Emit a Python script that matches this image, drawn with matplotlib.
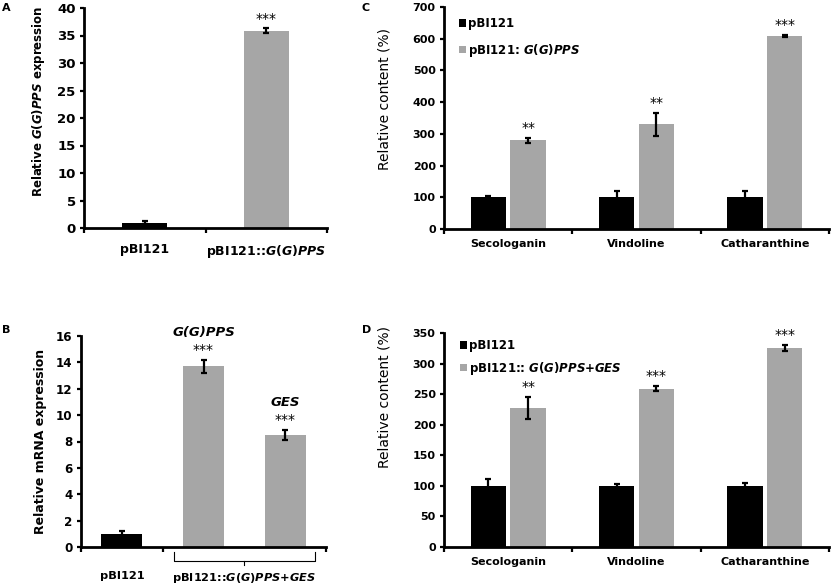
import numpy as np
import matplotlib
matplotlib.use("Agg")
import matplotlib.pyplot as plt
import matplotlib.transforms as mtransforms

plt.rcParams['font.family'] = 'DejaVu Sans'
plt.rcParams['mathtext.fontset'] = 'custom'
plt.rcParams['mathtext.it'] = 'DejaVu Sans:bold:italic'
plt.rcParams['mathtext.rm'] = 'DejaVu Sans:bold'
plt.rcParams['mathtext.bf'] = 'DejaVu Sans:bold'

# data
a_labels = ['pBI121', r'pBI121::$\mathit{G(G)PPS}$']
a_vals = [1.0, 35.9]
a_err = [0.2, 0.4]

b_labels = ['pBI121', r'pBI121::$\mathit{G(G)PPS}$+$\mathit{GES}$']
b_vals = [1.0, 13.7, 8.5]
b_err = [0.2, 0.5, 0.4]
b_genes = ['', 'G(G)PPS', 'GES']

compounds = ['Secologanin', 'Vindoline', 'Catharanthine']
c_ctrl = [100, 100, 100]
c_ctrl_err = [5, 20, 20]
c_ggpps = [280, 330, 608]
c_ggpps_err = [8, 36, 3]
c_stars = ['**', '**', '***']

d_ctrl = [100, 100, 100]
d_ctrl_err = [11, 3, 5]
d_ges = [228, 259, 326]
d_ges_err = [18, 4, 5]
d_stars = ['**', '***', '***']

W, H = 831, 586
BLACK = '#000000'
GRAY = '#a6a6a6'

fig = plt.figure(figsize=(W / 100, H / 100), dpi=100)


def box(l, t, r, b):
    return [l / W, 1 - b / H, (r - l) / W, (b - t) / H]


def fx(x):
    return x / W


def fy(y):
    return 1 - y / H


def style(ax, n, ymax, ystep, ysize):
    ax.set_xlim(-0.5, n - 0.5)
    ax.set_ylim(0, ymax)
    ax.set_yticks(np.arange(0, ymax + ystep / 2, ystep))
    for s in ['top', 'right']:
        ax.spines[s].set_visible(False)
    for s in ['left', 'bottom']:
        ax.spines[s].set_linewidth(2)
    ax.set_xticks(np.arange(-0.5, n, 1.0), minor=True)
    ax.tick_params(axis='x', which='minor', direction='out', length=3.5, width=1.6)
    ax.tick_params(axis='x', which='major', length=0)
    ax.tick_params(axis='y', direction='out', length=3, width=1.6, pad=3, labelsize=ysize)
    for lab in ax.get_yticklabels():
        lab.set_fontweight('bold')


ekw = dict(fmt='none', ecolor='black', elinewidth=1.6, capsize=2.4, capthick=1.6, zorder=3)

# A
axA = fig.add_axes(box(84, 8, 327, 228))
xa = np.arange(len(a_vals))
axA.bar(xa, a_vals, width=0.37, color=[BLACK, GRAY], zorder=2)
axA.errorbar(xa, a_vals, yerr=a_err, **ekw)
style(axA, 2, 40, 5, 9.5)
axA.set_xticks(xa)
axA.set_xticklabels(a_labels, fontweight='bold', fontsize=9)
axA.tick_params(axis='x', which='major', pad=11)
axA.annotate('***', (xa[1], a_vals[1] + a_err[1]), xytext=(0, 2),
             textcoords='offset points', ha='center', va='bottom', fontsize=10)
fig.text(fx(39), fy(101), r'Relative $\mathit{G(G)PPS}$ expression', rotation=90,
         ha='center', va='center', fontsize=8.5, fontweight='bold')

# B
axB = fig.add_axes(box(81, 336, 326, 547))
xb = np.arange(len(b_vals))
axB.bar(xb, b_vals, width=0.5, color=[BLACK, GRAY, GRAY], zorder=2)
axB.errorbar(xb, b_vals, yerr=b_err, **ekw)
style(axB, 3, 16, 2, 8.6)
axB.set_xticks([0, 1.5])
axB.set_xticklabels(b_labels, fontweight='bold', fontsize=8.2)
axB.tick_params(axis='x', which='major', pad=17)
for i in range(1, 3):
    top = b_vals[i] + b_err[i]
    axB.annotate('***', (xb[i], top), xytext=(0, 2), textcoords='offset points',
                 ha='center', va='bottom', fontsize=10)
    axB.annotate(b_genes[i], (xb[i], top), xytext=(0, 15), textcoords='offset points',
                 ha='center', va='bottom', fontsize=9.5, fontweight='bold', style='italic')
tr = mtransforms.blended_transform_factory(axB.transData, fig.transFigure)
bx0, bx1 = 0.64, 2.36
axB.plot([bx0, bx0, bx1, bx1], [fy(552), fy(561), fy(561), fy(552)], color='black',
         lw=0.8, transform=tr, clip_on=False)
axB.plot([1.5, 1.5], [fy(561), fy(565)], color='black', lw=0.8, transform=tr, clip_on=False)
fig.text(fx(41), fy(441), 'Relative mRNA expression', rotation=90,
         ha='center', va='center', fontsize=9, fontweight='bold')


def grouped(ax, ctrl, ctrl_err, trt, trt_err, stars, ymax, ystep, lab2):
    x = np.arange(len(compounds))
    off, w = 0.155, 0.275
    b1 = ax.bar(x - off, ctrl, width=w, color=BLACK, zorder=2, label='pBI121')
    b2 = ax.bar(x + off, trt, width=w, color=GRAY, zorder=2, label=lab2)
    ax.errorbar(x - off, ctrl, yerr=ctrl_err, **ekw)
    ax.errorbar(x + off, trt, yerr=trt_err, **ekw)
    for i in range(len(x)):
        ax.annotate(stars[i], (x[i] + off, trt[i] + trt_err[i]), xytext=(0, 2),
                    textcoords='offset points', ha='center', va='bottom', fontsize=10)
    style(ax, 3, ymax, ystep, 8)
    ax.set_xticks(x)
    ax.set_xticklabels(compounds, fontweight='bold', fontsize=8)
    ax.tick_params(axis='x', which='major', pad=7)
    return b1, b2


# C
axC = fig.add_axes(box(444, 7, 829, 229))
hC = grouped(axC, c_ctrl, c_ctrl_err, c_ggpps, c_ggpps_err, c_stars, 700, 100,
             r'pBI121: $\mathit{G(G)PPS}$')
axC.legend(handles=hC, loc='upper left', bbox_to_anchor=(fx(459), fy(17)),
           bbox_transform=fig.transFigure, frameon=False,
           handlelength=0.6, handleheight=0.6, handletextpad=0.2, labelspacing=1.0,
           borderaxespad=0, borderpad=0, prop={'weight': 'bold', 'size': 8.5})
fig.text(fx(385), fy(99), 'Relative content (%)', rotation=90,
         ha='center', va='center', fontsize=10)

# D
axD = fig.add_axes(box(444, 333, 829, 547))
hD = grouped(axD, d_ctrl, d_ctrl_err, d_ges, d_ges_err, d_stars, 350, 50,
             r'pBI121:: $\mathit{G(G)PPS}$+$\mathit{GES}$')
axD.legend(handles=hD, loc='upper left', bbox_to_anchor=(fx(460), fy(339)),
           bbox_transform=fig.transFigure, frameon=False,
           handlelength=0.6, handleheight=0.6, handletextpad=0.2, labelspacing=0.65,
           borderaxespad=0, borderpad=0, prop={'weight': 'bold', 'size': 8.5})
fig.text(fx(385), fy(397), 'Relative content (%)', rotation=90,
         ha='center', va='center', fontsize=10)

# panel letters
for letter, (px, py) in zip('ABCD', [(2, 3), (2, 325), (362, 3), (362, 325)]):
    fig.text(fx(px), fy(py), letter, ha='left', va='top', fontsize=8, fontweight='bold')

fig.savefig('out.png', dpi=100)
